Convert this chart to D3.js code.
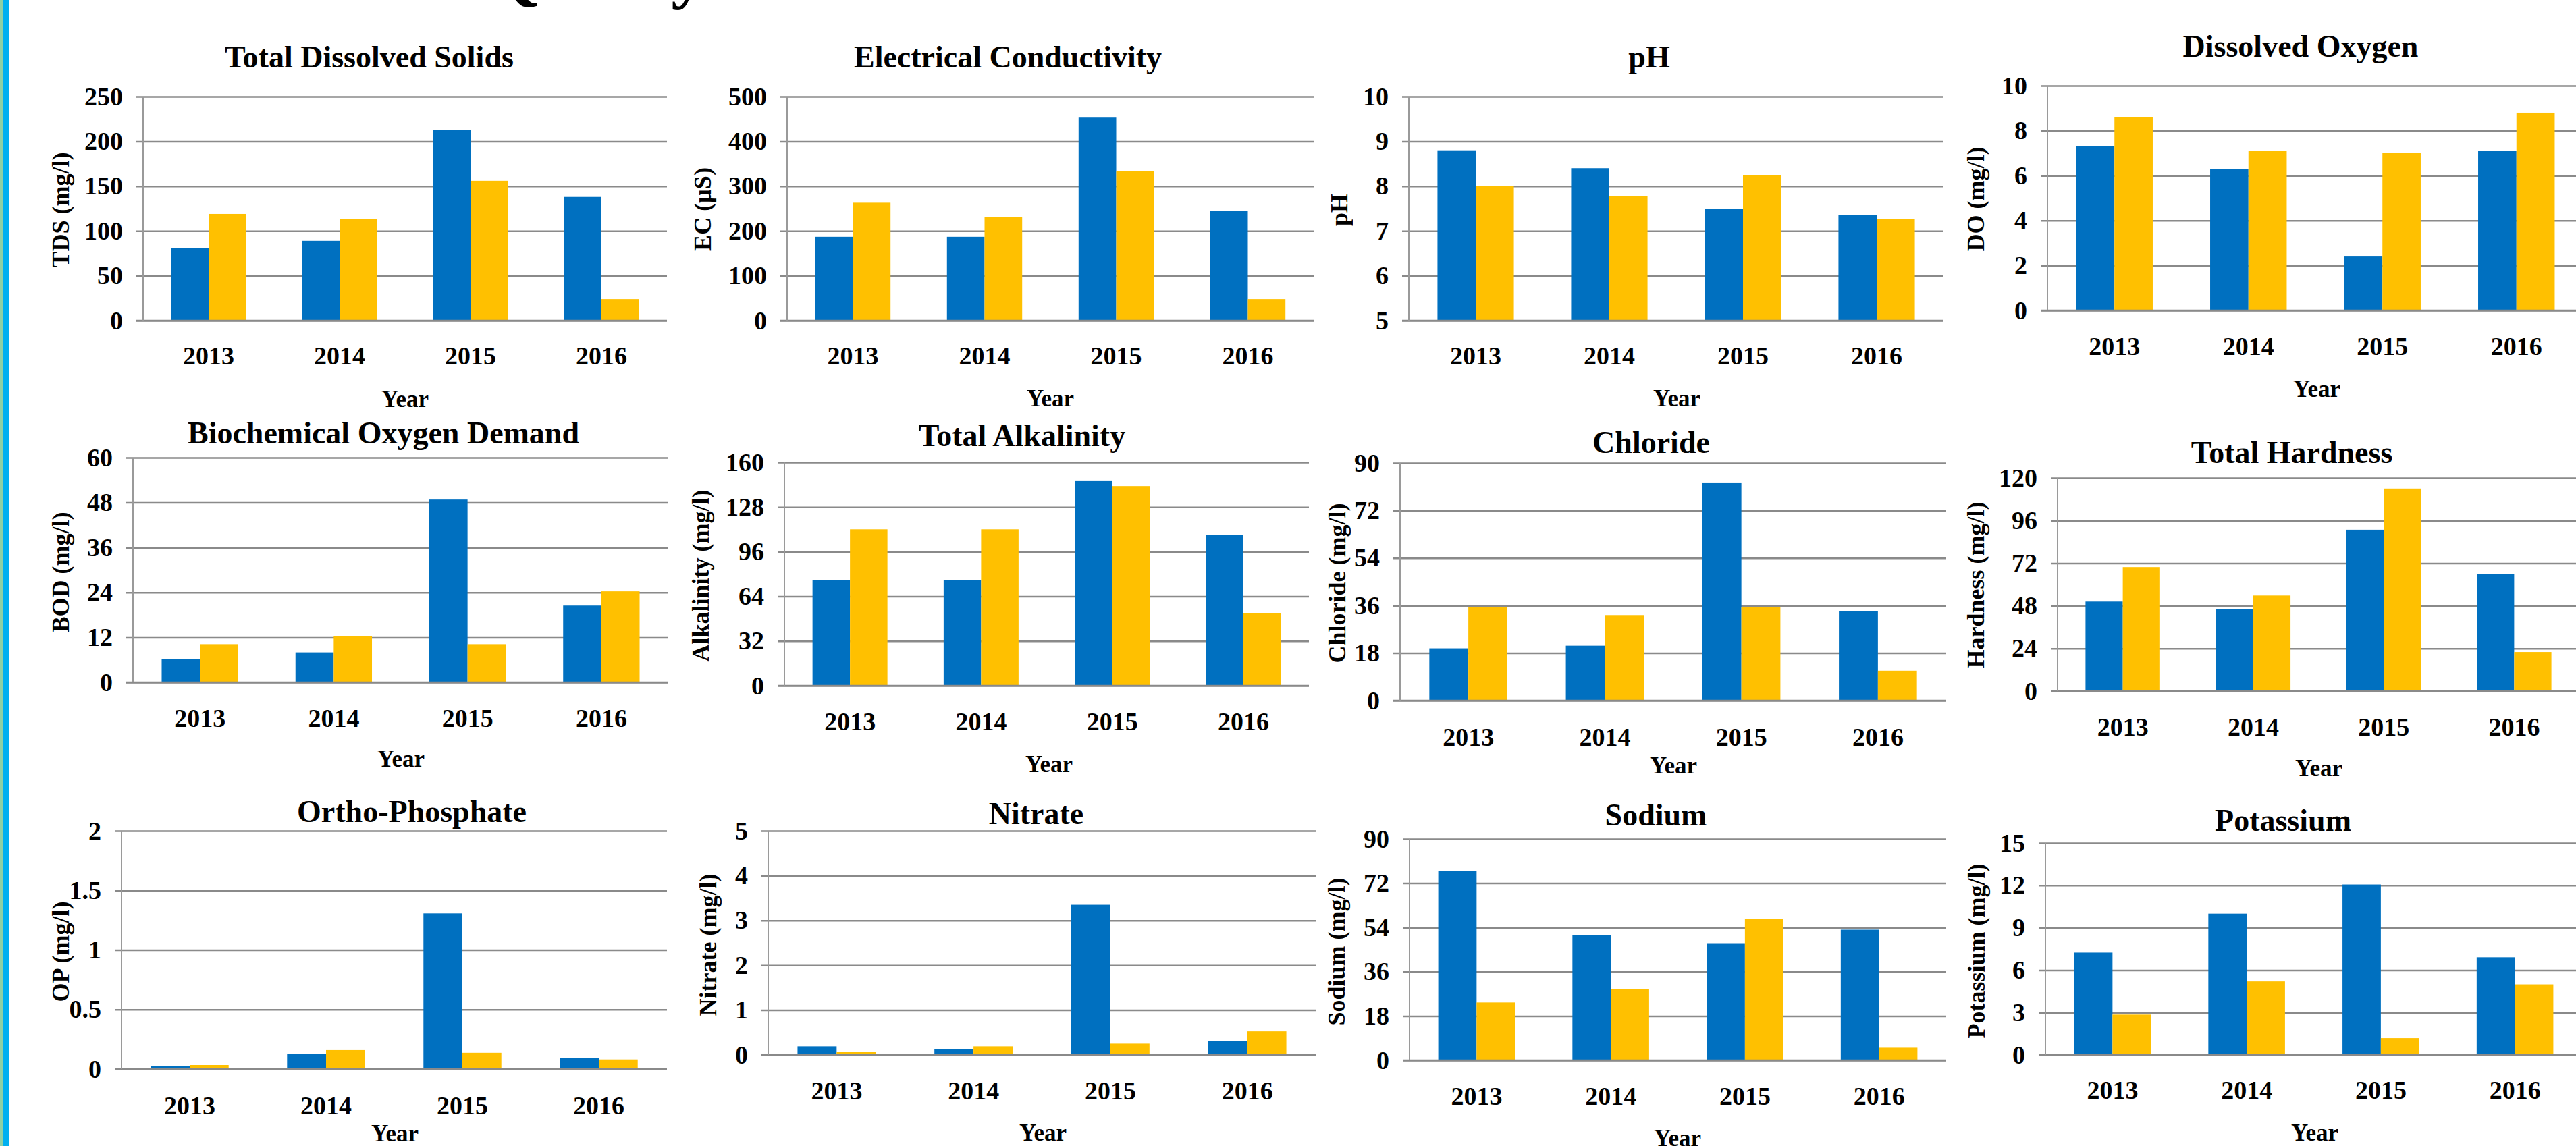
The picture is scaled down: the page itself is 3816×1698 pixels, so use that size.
<!DOCTYPE html>
<html>
<head>
<meta charset="utf-8">
<script src="https://cdn.jsdelivr.net/npm/d3@7"></script>
<style>
    html, body { margin: 0; padding: 0; background: #fff; }
    svg { display: block; }
    text { font-family: "Liberation Serif", "Times New Roman", serif; font-weight: bold; fill: #000; }
</style>
</head>
<body>
<div id="poster"></div>
<script>

const years = ["2013", "2014", "2015", "2016"];

const tdsBlue = [81, 89, 213, 138];
const tdsYellow = [119, 113, 156, 24];
const tdsTicks = [0, 50, 100, 150, 200, 250];

const ecBlue = [187, 187, 453, 244];
const ecYellow = [263, 231, 333, 48];
const ecTicks = [0, 100, 200, 300, 400, 500];

const phBlue = [8.8, 8.4, 7.5, 7.35];
const phYellow = [8.0, 7.78, 8.24, 7.26];
const phTicks = [5, 6, 7, 8, 9, 10];

const doBlue = [7.3, 6.3, 2.4, 7.1];
const doYellow = [8.6, 7.1, 7.0, 8.8];
const doTicks = [0, 2, 4, 6, 8, 10];

const bodBlue = [6.2, 8.0, 48.8, 20.5];
const bodYellow = [10.2, 12.3, 10.2, 24.3];
const bodTicks = [0, 12, 24, 36, 48, 60];

const alkBlue = [75.5, 75.5, 147, 108];
const alkYellow = [112, 112, 143, 52];
const alkTicks = [0, 32, 64, 96, 128, 160];

const clBlue = [19.8, 20.8, 82.6, 33.8];
const clYellow = [35.4, 32.4, 35.4, 11.3];
const clTicks = [0, 18, 36, 54, 72, 90];

const thBlue = [50.4, 46, 90.8, 66];
const thYellow = [69.8, 53.8, 114, 22];
const thTicks = [0, 24, 48, 72, 96, 120];

const opBlue = [0.024, 0.125, 1.307, 0.091];
const opYellow = [0.034, 0.159, 0.137, 0.081];
const opTicks = [0, 0.5, 1, 1.5, 2];

const no3Blue = [0.19, 0.134, 3.35, 0.31];
const no3Yellow = [0.07, 0.19, 0.25, 0.525];
const no3Ticks = [0, 1, 2, 3, 4, 5];

const naBlue = [76.9, 51, 47.6, 53.1];
const naYellow = [23.5, 29, 57.5, 5.1];
const naTicks = [0, 18, 36, 54, 72, 90];

const kBlue = [7.24, 10.0, 12.06, 6.91];
const kYellow = [2.85, 5.2, 1.19, 4.99];
const kTicks = [0, 3, 6, 9, 12, 15];

// ---- style ----
const BLUE = "#0070C0";
const YELLOW = "#FFC000";
const GRID = "#8a8a8a";
const GAP = 1.5 / 3.5;   // excel style 150% gap width

// ---- layout of the 12 panels (pixel boxes measured on the poster) ----
const charts = [
    {title: "Total Dissolved Solids", yTitle: "TDS (mg/l)", blue: tdsBlue, yellow: tdsYellow, ticks: tdsTicks,
        left: 212, right: 988, top: 143, bottom: 475, titleXY: [547, 100], yTitleXY: [102, 311], labelY: 540, yearXY: [600, 603]},
    {title: "Electrical Conductivity", yTitle: "EC (µS)", blue: ecBlue, yellow: ecYellow, ticks: ecTicks,
        left: 1166, right: 1946, top: 143, bottom: 475, titleXY: [1493, 100], yTitleXY: [1053, 310], labelY: 540, yearXY: [1556, 602]},
    {title: "pH", yTitle: "pH", blue: phBlue, yellow: phYellow, ticks: phTicks,
        left: 2087, right: 2879, top: 143, bottom: 475, titleXY: [2443, 100], yTitleXY: [1996, 311], labelY: 540, yearXY: [2484, 602]},
    {title: "Dissolved Oxygen", yTitle: "DO (mg/l)", blue: doBlue, yellow: doYellow, ticks: doTicks,
        left: 3033, right: 3827, top: 127, bottom: 460, titleXY: [3408, 84], yTitleXY: [2939, 295], labelY: 526, yearXY: [3432, 588]},

    {title: "Biochemical Oxygen Demand", yTitle: "BOD (mg/l)", blue: bodBlue, yellow: bodYellow, ticks: bodTicks,
        left: 197, right: 990, top: 678, bottom: 1011, titleXY: [568, 657], yTitleXY: [102, 848], labelY: 1077, yearXY: [594, 1136]},
    {title: "Total Alkalinity", yTitle: "Alkalinity (mg/l)", blue: alkBlue, yellow: alkYellow, ticks: alkTicks,
        left: 1162, right: 1939, top: 685, bottom: 1016, titleXY: [1514, 661], yTitleXY: [1050, 853], labelY: 1082, yearXY: [1554, 1144]},
    {title: "Chloride", yTitle: "Chloride (mg/l)", blue: clBlue, yellow: clYellow, ticks: clTicks,
        left: 2074, right: 2883, top: 686, bottom: 1038, titleXY: [2446, 671], yTitleXY: [1993, 864], labelY: 1105, yearXY: [2479, 1146]},
    {title: "Total Hardness", yTitle: "Hardness (mg/l)", blue: thBlue, yellow: thYellow, ticks: thTicks,
        left: 3048, right: 3821, top: 708, bottom: 1024, titleXY: [3395, 686], yTitleXY: [2939, 867], labelY: 1090, yearXY: [3435, 1150]},

    {title: "Ortho-Phosphate", yTitle: "OP (mg/l)", blue: opBlue, yellow: opYellow, ticks: opTicks,
        left: 180, right: 988, top: 1231, bottom: 1584, titleXY: [610, 1218], yTitleXY: [102, 1410], labelY: 1651, yearXY: [585, 1691]},
    {title: "Nitrate", yTitle: "Nitrate (mg/l)", blue: no3Blue, yellow: no3Yellow, ticks: no3Ticks,
        left: 1138, right: 1949, top: 1231, bottom: 1563, titleXY: [1535, 1221], yTitleXY: [1061, 1400], labelY: 1629, yearXY: [1545, 1690]},
    {title: "Sodium", yTitle: "Sodium (mg/l)", blue: naBlue, yellow: naYellow, ticks: naTicks,
        left: 2088, right: 2883, top: 1243, bottom: 1571, titleXY: [2453, 1223], yTitleXY: [1992, 1410], labelY: 1637, yearXY: [2485, 1698]},
    {title: "Potassium", yTitle: "Potassium (mg/l)", blue: kBlue, yellow: kYellow, ticks: kTicks,
        left: 3030, right: 3825, top: 1249, bottom: 1563, titleXY: [3382, 1231], yTitleXY: [2940, 1409], labelY: 1628, yearXY: [3429, 1690]}
];


class GroupedBars {

    constructor(svg, cfg) {
        this.svg = svg;
        this.cfg = cfg;
        this.initVis();
    }

    initVis() {
        let vis = this;
        let c = vis.cfg;

        vis.width = c.right - c.left;
        vis.height = c.bottom - c.top;

        vis.g = vis.svg.append("g")
            .attr("transform", `translate(${c.left}, ${c.top})`);

        // scales
        vis.x0 = d3.scaleBand()
            .domain(years)
            .range([0, vis.width])
            .paddingInner(GAP)
            .paddingOuter(GAP / 2);

        vis.x1 = d3.scaleBand()
            .domain(["blue", "yellow"])
            .range([0, vis.x0.bandwidth()]);

        vis.y = d3.scaleLinear()
            .domain(d3.extent(c.ticks))
            .range([vis.height, 0]);

        // gridlines + tick labels (lines poke 10px left of the axis)
        vis.yAxis = d3.axisLeft(vis.y)
            .tickValues(c.ticks)
            .tickSize(-(vis.width + 10))
            .tickPadding(20)
            .tickFormat(d => d);

        vis.g.append("g")
            .attr("class", "y-axis")
            .attr("transform", "translate(-10, 0)")
            .call(vis.yAxis)
            .attr("font-size", 38)
            .call(g => g.select(".domain").remove())
            .call(g => g.selectAll("line").attr("stroke", GRID).attr("stroke-width", 2.5));

        vis.updateVis();
    }

    updateVis() {
        let vis = this;
        let c = vis.cfg;

        // bars
        vis.g.selectAll(".year-group")
            .data(years)
            .join("g")
            .attr("class", "year-group")
            .attr("transform", d => `translate(${vis.x0(d)}, 0)`)
            .selectAll("rect")
            .data((d, i) => [{key: "blue", v: c.blue[i]}, {key: "yellow", v: c.yellow[i]}])
            .join("rect")
            .attr("x", d => vis.x1(d.key))
            .attr("width", vis.x1.bandwidth())
            .attr("y", d => vis.y(d.v))
            .attr("height", d => vis.height - vis.y(d.v))
            .attr("fill", d => d.key === "blue" ? BLUE : YELLOW);

        // base line on top of the bars, and the vertical axis
        vis.g.append("line")
            .attr("x1", -10).attr("x2", vis.width)
            .attr("y1", vis.height).attr("y2", vis.height)
            .attr("stroke", GRID).attr("stroke-width", 2.5);

        vis.g.append("line")
            .attr("x1", 0).attr("x2", 0)
            .attr("y1", 0).attr("y2", vis.height)
            .attr("stroke", "#9a9a9a").attr("stroke-width", 2);

        // year tick labels
        vis.xAxis = d3.axisBottom(vis.x0).tickSize(0).tickPadding(0);
        vis.g.append("g")
            .attr("class", "x-axis")
            .attr("transform", `translate(0, ${c.labelY - c.top})`)
            .call(vis.xAxis)
            .attr("font-size", 38)
            .call(g => g.select(".domain").remove())
            .selectAll("text").attr("y", 0).attr("dy", 0);

        // titles
        vis.svg.append("text")
            .attr("x", c.titleXY[0]).attr("y", c.titleXY[1])
            .attr("text-anchor", "middle")
            .attr("font-size", 46)
            .text(c.title);

        vis.svg.append("text")
            .attr("transform", `translate(${c.yTitleXY[0]}, ${c.yTitleXY[1]}) rotate(-90)`)
            .attr("text-anchor", "middle")
            .attr("font-size", 36)
            .text(c.yTitle);

        vis.svg.append("text")
            .attr("x", c.yearXY[0]).attr("y", c.yearXY[1])
            .attr("text-anchor", "middle")
            .attr("font-size", 35)
            .text("Year");
    }
}


let svg = d3.select("#poster").append("svg")
    .attr("width", 3816)
    .attr("height", 1698);

svg.append("rect").attr("width", 3816).attr("height", 1698).attr("fill", "#fff");

// poster edge strip
svg.append("rect").attr("x", 0).attr("y", 0).attr("width", 5).attr("height", 1698).attr("fill", "#8fd1a4");
svg.append("rect").attr("x", 5).attr("y", 0).attr("width", 8).attr("height", 1698).attr("fill", "#00b0f0");

// heading, mostly cut off at the top of the crop
svg.append("text")
    .attr("x", 722).attr("y", -6)
    .attr("font-size", 100)
    .text("Quality");

charts.forEach(c => new GroupedBars(svg, c));

</script>
</body>
</html>
